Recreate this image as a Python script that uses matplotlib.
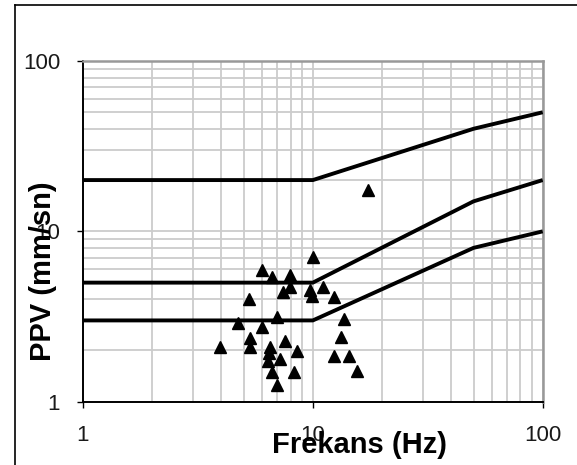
import matplotlib
matplotlib.use("Agg")
import matplotlib.pyplot as plt
from matplotlib.lines import Line2D
from matplotlib.ticker import FixedLocator, FixedFormatter, LogLocator, NullFormatter

# ---- data ----
limit_freq = [1, 10, 50, 100]
limit_high = [20, 20, 40, 50]
limit_mid = [5, 5, 15, 20]
limit_low = [3, 3, 8, 10]

freq = [9.98, 5.99, 6.62, 7.95, 7.95, 7.44, 9.72, 9.88, 11.1, 12.3, 5.29, 7.0,
        4.74, 5.99, 13.6, 5.33, 5.33, 3.94, 13.2, 7.56, 6.54, 8.53, 6.43, 7.23,
        6.38, 12.3, 14.4, 6.67, 8.25, 15.6, 7.0, 17.3]
ppv = [7.04, 5.93, 5.42, 5.54, 4.73, 4.42, 4.53, 4.20, 4.73, 4.13, 4.03, 3.16,
       2.89, 2.74, 3.05, 2.38, 2.10, 2.10, 2.41, 2.26, 2.10, 1.98, 1.92, 1.77,
       1.73, 1.86, 1.86, 1.50, 1.50, 1.52, 1.25, 17.5]

tick_vals = [1, 10, 100]
tick_labels = ["1", "10", "100"]
xlabel = "Frekans (Hz)"
ylabel = "PPV (mm/sn)"

plt.rcParams['font.family'] = ['Liberation Sans', 'DejaVu Sans']

W, H = 577, 465
fig = plt.figure(figsize=(W / 100, H / 100), dpi=100)
fig.patch.set_facecolor('white')

ax = fig.add_axes([83 / W, 1 - 401.7 / H, (542.7 - 83) / W, (401.7 - 61) / H])
ax.set_xscale('log')
ax.set_yscale('log')
ax.set_xlim(1, 100)
ax.set_ylim(1, 100)

for a in (ax.xaxis, ax.yaxis):
    a.set_major_locator(FixedLocator(tick_vals))
    a.set_major_formatter(FixedFormatter(tick_labels))
    a.set_minor_locator(LogLocator(base=10, subs=range(2, 10)))
    a.set_minor_formatter(NullFormatter())

ax.grid(True, which='both', color='#cccccc', lw=1.3, zorder=0)
ax.set_axisbelow(True)

ax.tick_params(which='major', direction='out', length=4.5, width=1.0, color='black',
               labelsize=16, labelcolor='#1a1a1a')
ax.tick_params(axis='x', which='major', pad=12)
ax.tick_params(axis='y', which='major', pad=12)
ax.tick_params(which='minor', length=0)

for s in ('left', 'bottom'):
    ax.spines[s].set_color('black')
    ax.spines[s].set_linewidth(1.4)
for s in ('top', 'right'):
    ax.spines[s].set_color('#999999')
    ax.spines[s].set_linewidth(1.8)

for yv in (limit_high, limit_mid, limit_low):
    ax.plot(limit_freq, yv, color='black', lw=2.8, zorder=3, solid_capstyle='butt')

ax.plot(freq, ppv, linestyle='none', marker='^', markersize=8.8, color='black', zorder=4)

fig.text(360 / W, 1 - 445 / H, xlabel, fontsize=21, fontweight='bold',
         ha='center', va='center')
fig.text(43.5 / W, 1 - 271.5 / H, ylabel, fontsize=21, fontweight='bold',
         rotation=90, ha='center', va='center')

# outer frame (top and left edges visible)
fig.add_artist(Line2D([15 / W, 15 / W], [0, 1 - 5 / H], transform=fig.transFigure,
                      color='black', lw=1.2))
fig.add_artist(Line2D([15 / W, 1], [1 - 5 / H, 1 - 5 / H], transform=fig.transFigure,
                      color='black', lw=1.2))

fig.savefig('out.png', dpi=100)
